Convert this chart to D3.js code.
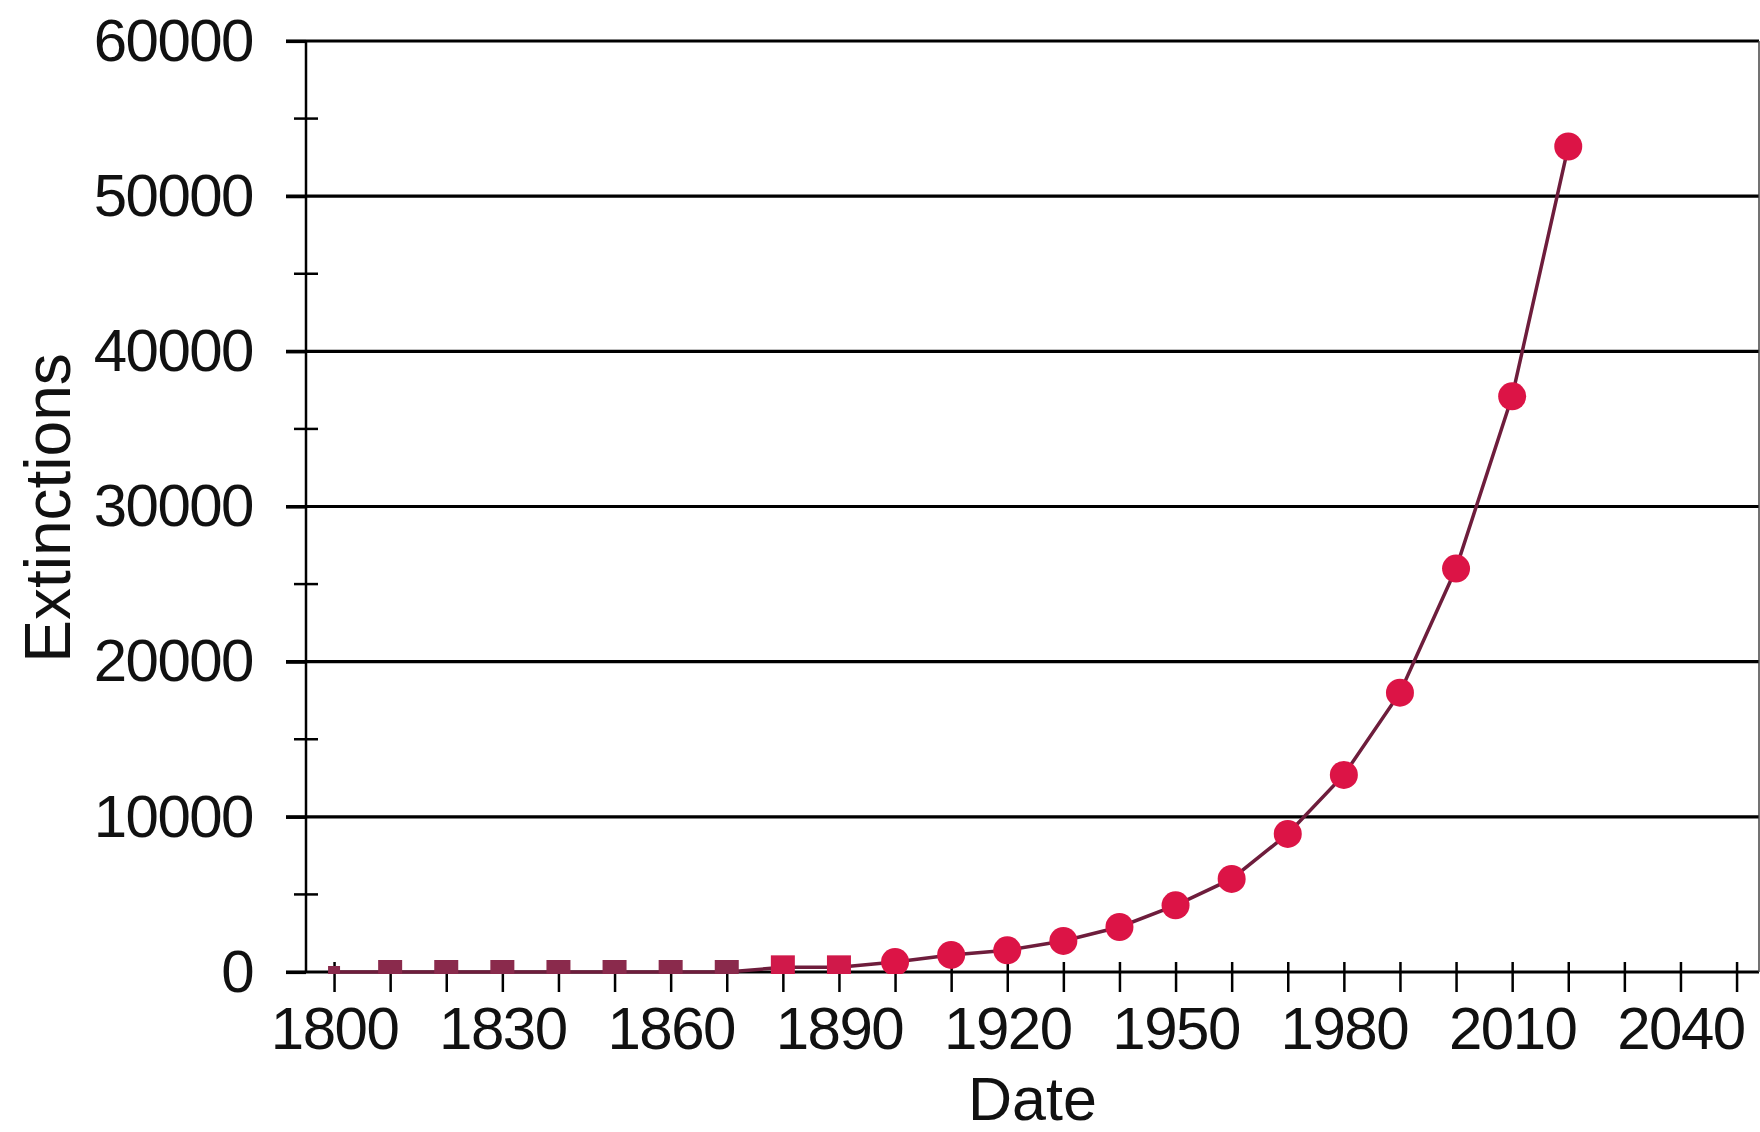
<!DOCTYPE html>
<html>
<head>
<meta charset="utf-8">
<script src="https://cdn.jsdelivr.net/npm/d3@7"></script>
<style>
    html, body { margin: 0; padding: 0; background: #ffffff; }
    #container { width: 1760px; height: 1132px; }
    text { font-family: 'Liberation Sans', Arial, sans-serif; fill: #111; }
</style>
</head>
<body>
<div id="container"></div>
<script>
// data
const years = [1800, 1810, 1820, 1830, 1840, 1850, 1860, 1870, 1880, 1890,
    1900, 1910, 1920, 1930, 1940, 1950, 1960, 1970, 1980, 1990, 2000, 2010, 2020];
const extinctions = [0, 0, 0, 0, 0, 0, 0, 0, 300, 300,
    650, 1100, 1400, 2000, 2900, 4300, 6000, 8900, 12700, 18000, 26000, 37100, 53200];
const yTicks = [0, 10000, 20000, 30000, 40000, 50000, 60000];
const yMinorTicks = [5000, 15000, 25000, 35000, 45000, 55000];
const xTicks = [1800, 1810, 1820, 1830, 1840, 1850, 1860, 1870, 1880, 1890, 1900, 1910, 1920,
    1930, 1940, 1950, 1960, 1970, 1980, 1990, 2000, 2010, 2020, 2030, 2040, 2050];
const xLabels = [1800, 1830, 1860, 1890, 1920, 1950, 1980, 2010, 2040];

const data = years.map((year, i) => ({ year: year, value: extinctions[i] }));

const W = 1760, H = 1132;
const plotLeft = 306, plotRight = 1759, plotTop = 41, plotBottom = 972;

const svg = d3.select('#container')
    .append('svg')
    .attr('width', W)
    .attr('height', H)
    .style('background-color', '#ffffff');

const x = d3.scaleLinear()
    .domain([1795, 2054])
    .range([plotLeft, plotRight]);

const y = d3.scaleLinear()
    .domain([0, 60000])
    .range([plotBottom, plotTop]);

// horizontal grid lines (incl. the zero line), starting left of the axis
svg.append('g')
    .selectAll('line')
    .data(yTicks)
    .join('line')
    .attr('x1', plotLeft - 20)
    .attr('x2', plotRight)
    .attr('y1', d => y(d))
    .attr('y2', d => y(d))
    .attr('stroke', '#000')
    .attr('stroke-width', 3.2);

// right border of the plot
svg.append('line')
    .attr('x1', plotRight).attr('x2', plotRight)
    .attr('y1', y(60000)).attr('y2', y(0))
    .attr('stroke', '#444')
    .attr('stroke-width', 1.5);

// y axis
const yAxis = svg.append('g')
    .attr('transform', `translate(${plotLeft},0)`)
    .call(d3.axisLeft(y).tickValues(yTicks).tickSize(20).tickPadding(33).tickFormat(d3.format('d')));
yAxis.select('.domain').remove();
yAxis.selectAll('.tick line').attr('stroke', '#000').attr('stroke-width', 3.2);
yAxis.selectAll('.tick text')
    .style('font-size', '60px')
    .style('letter-spacing', '-1.5px')
    .attr('fill', '#111');

svg.append('line')
    .attr('x1', plotLeft).attr('x2', plotLeft)
    .attr('y1', y(60000)).attr('y2', y(0))
    .attr('stroke', '#000')
    .attr('stroke-width', 2.5);

// minor ticks crossing the y axis
svg.append('g')
    .selectAll('line')
    .data(yMinorTicks)
    .join('line')
    .attr('x1', plotLeft - 12)
    .attr('x2', plotLeft + 12)
    .attr('y1', d => y(d))
    .attr('y2', d => y(d))
    .attr('stroke', '#000')
    .attr('stroke-width', 2.5);

// x axis
const xAxis = svg.append('g')
    .attr('transform', `translate(0,${plotBottom})`)
    .call(d3.axisBottom(x).tickValues(xTicks).tickSize(20).tickPadding(14)
        .tickFormat(d => xLabels.includes(d) ? d : ''));
xAxis.select('.domain').remove();
xAxis.selectAll('.tick line')
    .attr('y1', -10)
    .attr('stroke', '#000')
    .attr('stroke-width', 2.5);
xAxis.selectAll('.tick text')
    .style('font-size', '60px')
    .style('letter-spacing', '-1.5px')
    .attr('fill', '#111');

// axis titles
svg.append('text')
    .text('Extinctions')
    .attr('transform', 'translate(70,508) rotate(-90)')
    .attr('text-anchor', 'middle')
    .style('font-size', '64px');

svg.append('text')
    .text('Date')
    .attr('x', (plotLeft + plotRight) / 2)
    .attr('y', 1120)
    .attr('text-anchor', 'middle')
    .style('font-size', '61px');

// clip markers to the plot area (squares at zero show only their top half)
svg.append('defs')
    .append('clipPath')
    .attr('id', 'plotClip')
    .append('rect')
    .attr('x', plotLeft)
    .attr('y', plotTop - 30)
    .attr('width', plotRight - plotLeft)
    .attr('height', plotBottom - plotTop + 32);

const plot = svg.append('g').attr('clip-path', 'url(#plotClip)');

plot.append('path')
    .datum(data)
    .attr('d', d3.line().x(d => x(d.year)).y(d => y(d.value)))
    .attr('fill', 'none')
    .attr('stroke', '#6e1d3c')
    .attr('stroke-width', 3.5);

// square markers before 1900, round markers after
plot.selectAll('rect.marker')
    .data(data.filter(d => d.year < 1900))
    .join('rect')
    .attr('class', 'marker')
    .attr('x', (d, i) => x(d.year) - (i === 0 ? 6 : 12))
    .attr('y', (d, i) => y(d.value) - (i === 0 ? 6 : 12))
    .attr('width', (d, i) => i === 0 ? 12 : 24)
    .attr('height', (d, i) => i === 0 ? 12 : 24)
    .attr('fill', d => d.value === 0 ? '#8a2a4c' : '#d0194a');

plot.selectAll('circle.marker')
    .data(data.filter(d => d.year >= 1900))
    .join('circle')
    .attr('class', 'marker')
    .attr('cx', d => x(d.year))
    .attr('cy', d => y(d.value))
    .attr('r', 14)
    .attr('fill', '#dc1446');
</script>
</body>
</html>
